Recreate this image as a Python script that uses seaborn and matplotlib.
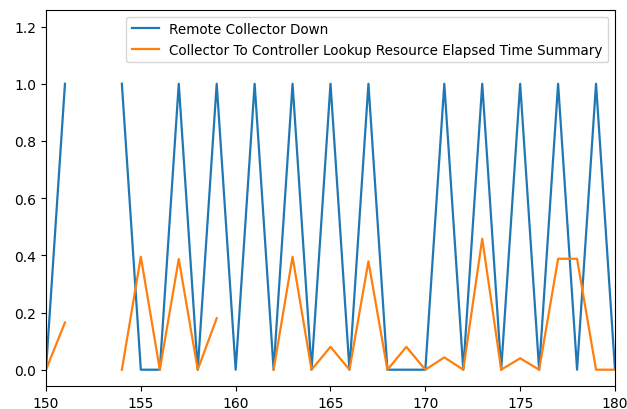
import numpy as np
import pandas as pd
import matplotlib
matplotlib.use("Agg")
import matplotlib.pyplot as plt
import seaborn as sns

# --- data (NaN = gap in the series) ---
minutes = list(range(150, 181))
collector_down = [0, 1, np.nan, np.nan, 1, 0, 0, 1, 0, 1,
                  0, 1, 0, 1, 0, 1, 0, 1, 0, 0,
                  0, 1, 0, 1, 0, 1, 0, 1, 0, 1, 0]
lookup_elapsed = [0, 0.165, np.nan, np.nan, 0, 0.395, 0, 0.387, 0, 0.18,
                  np.nan, np.nan, 0, 0.395, 0, 0.08, 0, 0.379, 0, 0.08,
                  0, 0.043, 0, 0.458, 0, 0.04, 0, 0.388, 0.388, 0, 0]

series_names = ["Remote Collector Down",
                "Collector To Controller Lookup Resource Elapsed Time Summary"]

wide = pd.DataFrame({series_names[0]: collector_down,
                     series_names[1]: lookup_elapsed}, index=minutes)
wide.index.name = "minute"

# long form, with a segment id so that gaps (NaN) break the line
parts = []
for name in series_names:
    s = wide[name]
    seg = s.isna().cumsum()
    part = pd.DataFrame({"minute": wide.index, "value": s.values,
                         "series": name, "segment": seg.values})
    parts.append(part.dropna(subset=["value"]))
long = pd.concat(parts, ignore_index=True)

fig, ax = plt.subplots(figsize=(6.27, 4.10), dpi=100)
fig.subplots_adjust(left=46/627, right=615/627, top=1 - 11/410, bottom=1 - 387/410)

sns.lineplot(data=long, x="minute", y="value", hue="series", units="segment",
             estimator=None, sort=False, linewidth=1.6, ax=ax,
             hue_order=series_names, palette=["#1f77b4", "#ff7f0e"])

ax.set_xlim(150, 180)
ax.set_ylim(-0.057, 1.258)
ax.set_xticks([150, 155, 160, 165, 170, 175, 180])
ax.set_yticks([0.0, 0.2, 0.4, 0.6, 0.8, 1.0, 1.2])
ax.set_xlabel("")
ax.set_ylabel("")
sns.move_legend(ax, "upper right", title=None, fontsize=9.75)

fig.savefig("out.png", dpi=100)
